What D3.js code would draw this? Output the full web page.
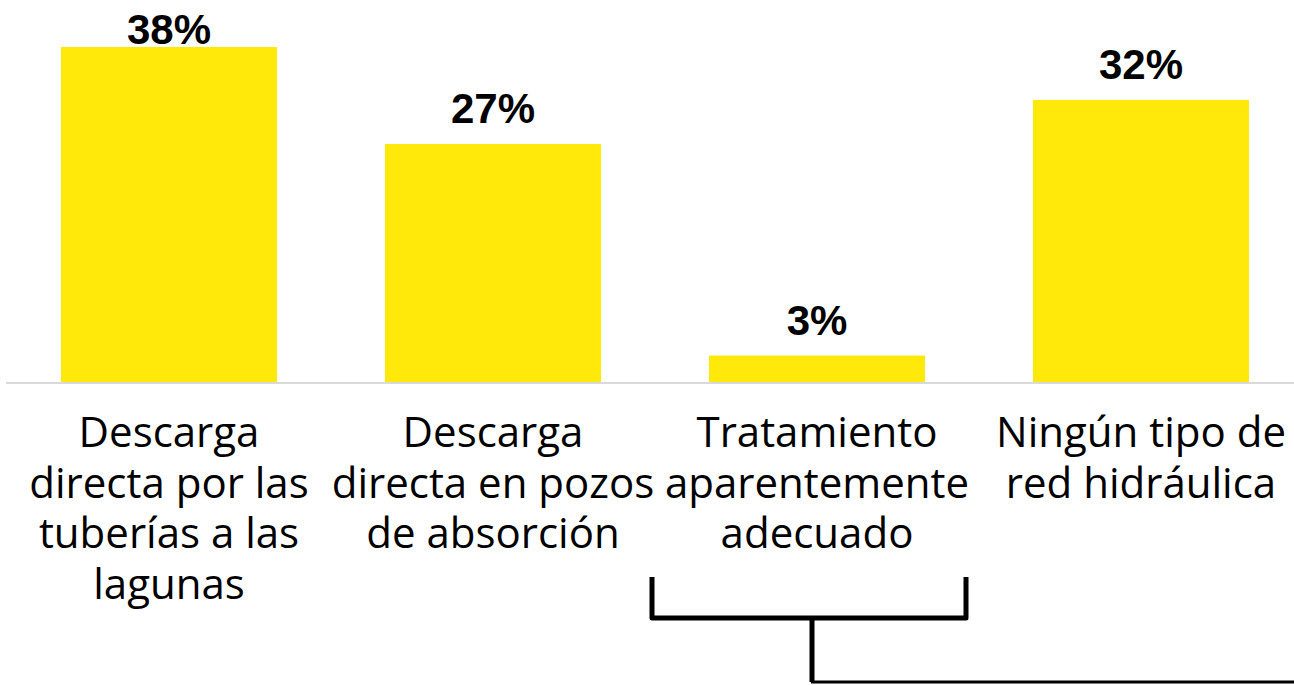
<!DOCTYPE html>
<html>
<head>
<meta charset="utf-8">
<script src="https://cdn.jsdelivr.net/npm/d3@7"></script>
<style>
  body { margin: 0; background: #fff; }
  svg { display: block; }
  .value { font-family: "Liberation Sans", Arial, sans-serif; font-weight: bold; font-size: 42px; fill: #000; }
  .cat { font-family: "Open Sans", Lato, sans-serif; font-size: 42px; fill: #000; }
</style>
</head>
<body>
<svg width="1294" height="685"></svg>
<script>
const categories = [
    ["Descarga", "directa por las", "tuberías a las", "lagunas"],
    ["Descarga", "directa en pozos", "de absorción"],
    ["Tratamiento", "aparentemente", "adecuado"],
    ["Ningún tipo de", "red hidráulica"]
];
const values = [38, 27, 3, 32];
const valueLabels = ["38%", "27%", "3%", "32%"];

const svg = d3.select('svg');

const x = d3.scaleBand()
    .domain(d3.range(values.length))
    .range([7, 1303])
    .paddingInner(1 / 3)
    .paddingOuter(1 / 6);

const y = d3.scaleLinear()
    .domain([0, 38])
    .range([382, 47]);

// bars
svg.selectAll('.bar')
    .data(values)
    .enter()
    .append('rect')
    .attr('class', 'bar')
    .attr('x', (d, i) => x(i))
    .attr('y', d => y(d))
    .attr('width', x.bandwidth())
    .attr('height', d => y(0) - y(d))
    .attr('fill', '#ffe90b');

// baseline
svg.append('line')
    .attr('x1', 6)
    .attr('x2', 1294)
    .attr('y1', y(0) + 1)
    .attr('y2', y(0) + 1)
    .attr('stroke', '#d9d9d9')
    .attr('stroke-width', 2);

// value labels
svg.selectAll('.value')
    .data(values)
    .enter()
    .append('text')
    .attr('class', 'value')
    .attr('text-anchor', 'middle')
    .attr('x', (d, i) => x(i) + x.bandwidth() / 2)
    .attr('y', d => Math.max(y(d) - 21, 44))
    .text((d, i) => valueLabels[i]);

// category labels
const cats = svg.selectAll('.cat')
    .data(categories)
    .enter()
    .append('text')
    .attr('class', 'cat')
    .attr('text-anchor', 'middle')
    .attr('transform', (d, i) => 'translate(' + (x(i) + x.bandwidth() / 2) + ',447)');

cats.selectAll('tspan')
    .data(d => d)
    .enter()
    .append('tspan')
    .attr('x', 0)
    .attr('y', (d, i) => i * 50.5)
    .text(d => d);

// bracket under "Tratamiento aparentemente adecuado"
const bx = x(2);
const left = bx - 57, right = bx + x.bandwidth() + 41, stem = bx + 103;
svg.append('path')
    .attr('d', 'M' + left + ',577 V618 H' + right + ' V577')
    .attr('fill', 'none')
    .attr('stroke', '#000')
    .attr('stroke-width', 5)
    .attr('stroke-linejoin', 'round');

svg.append('path')
    .attr('d', 'M' + stem + ',618 V682')
    .attr('fill', 'none')
    .attr('stroke', '#000')
    .attr('stroke-width', 5);

svg.append('path')
    .attr('d', 'M' + (stem - 1) + ',682 H1294')
    .attr('fill', 'none')
    .attr('stroke', '#000')
    .attr('stroke-width', 3);
</script>
</body>
</html>
